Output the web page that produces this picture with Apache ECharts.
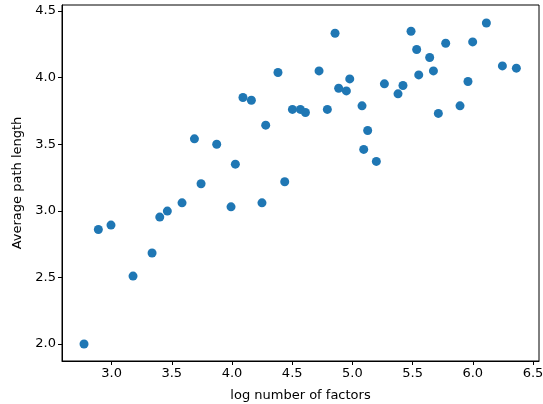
<!DOCTYPE html>
<html>
<head>
<meta charset="utf-8">
<script src="https://cdn.jsdelivr.net/npm/echarts@6/dist/echarts.min.js"></script>
<style>
  html, body { margin: 0; padding: 0; background: #fff; }
  #chart { width: 543px; height: 404px; }
</style>
</head>
<body>
<div id="chart"></div>
<script>
  // log number of factors
  var logFactors = [
    2.771, 2.890, 2.995, 3.178, 3.336, 3.400, 3.463, 3.585, 3.688, 3.743,
    3.873, 3.992, 4.028, 4.091, 4.161, 4.249, 4.280, 4.382, 4.438, 4.502,
    4.568, 4.610, 4.723, 4.792, 4.856, 4.886, 4.950, 4.978, 5.080, 5.094,
    5.127, 5.199, 5.266, 5.379, 5.420, 5.487, 5.534, 5.551, 5.642, 5.673,
    5.714, 5.775, 5.894, 5.960, 5.999, 6.113, 6.246, 6.362
  ];
  // average path length
  var pathLength = [
    2.000, 2.860, 2.893, 2.510, 2.683, 2.953, 2.998, 3.060, 3.540, 3.203,
    3.500, 3.030, 3.350, 3.851, 3.830, 3.060, 3.643, 4.038, 3.218, 3.761,
    3.761, 3.738, 4.050, 3.761, 4.333, 3.920, 3.900, 3.990, 3.788, 3.461,
    3.603, 3.371, 3.953, 3.878, 3.941, 4.348, 4.211, 4.020, 4.151, 4.050,
    3.731, 4.258, 3.788, 3.971, 4.268, 4.410, 4.088, 4.071
  ];
  var xTicks = [3.0, 3.5, 4.0, 4.5, 5.0, 5.5, 6.0, 6.5];
  var yTicks = [2.0, 2.5, 3.0, 3.5, 4.0, 4.5];

  var points = logFactors.map(function (x, i) { return [x, pathLength[i]]; });

  var font = 'DejaVu Sans';
  var chart = echarts.init(document.getElementById('chart'));
  chart.setOption({
    backgroundColor: '#fff',
    animation: false,
    grid: {
      left: 62, right: 4, top: 5, bottom: 43,
      outerBoundsMode: 'none',
      show: true, borderColor: '#000', borderWidth: 1, backgroundColor: 'transparent'
    },
    xAxis: {
      type: 'value',
      min: 2.588, max: 6.55,
      name: 'log number of factors',
      nameLocation: 'middle',
      nameGap: 28,
      nameTextStyle: { fontFamily: font, fontSize: 13, color: '#000' },
      axisLine: { show: true, onZero: false, lineStyle: { color: '#000', width: 1 } },
      axisTick: { show: true, length: 4, lineStyle: { color: '#000' }, customValues: xTicks },
      axisLabel: {
        fontFamily: font, fontSize: 13, color: '#000', margin: 6,
        customValues: xTicks,
        formatter: function (v) { return v.toFixed(1); }
      },
      splitLine: { show: false }
    },
    yAxis: {
      type: 'value',
      min: 1.8725, max: 4.545,
      name: 'Average path length',
      nameLocation: 'middle',
      nameGap: 37,
      nameTextStyle: { fontFamily: font, fontSize: 13, color: '#000' },
      axisLine: { show: true, onZero: false, lineStyle: { color: '#000', width: 1 } },
      axisTick: { show: true, length: 4, lineStyle: { color: '#000' }, customValues: yTicks },
      axisLabel: {
        fontFamily: font, fontSize: 13, color: '#000', margin: 6,
        customValues: yTicks,
        formatter: function (v) { return v.toFixed(1); }
      },
      splitLine: { show: false }
    },
    series: [{
      type: 'scatter',
      data: points,
      symbolSize: 9,
      itemStyle: { color: '#1f77b4', opacity: 1 }
    }]
  });
</script>
</body>
</html>
